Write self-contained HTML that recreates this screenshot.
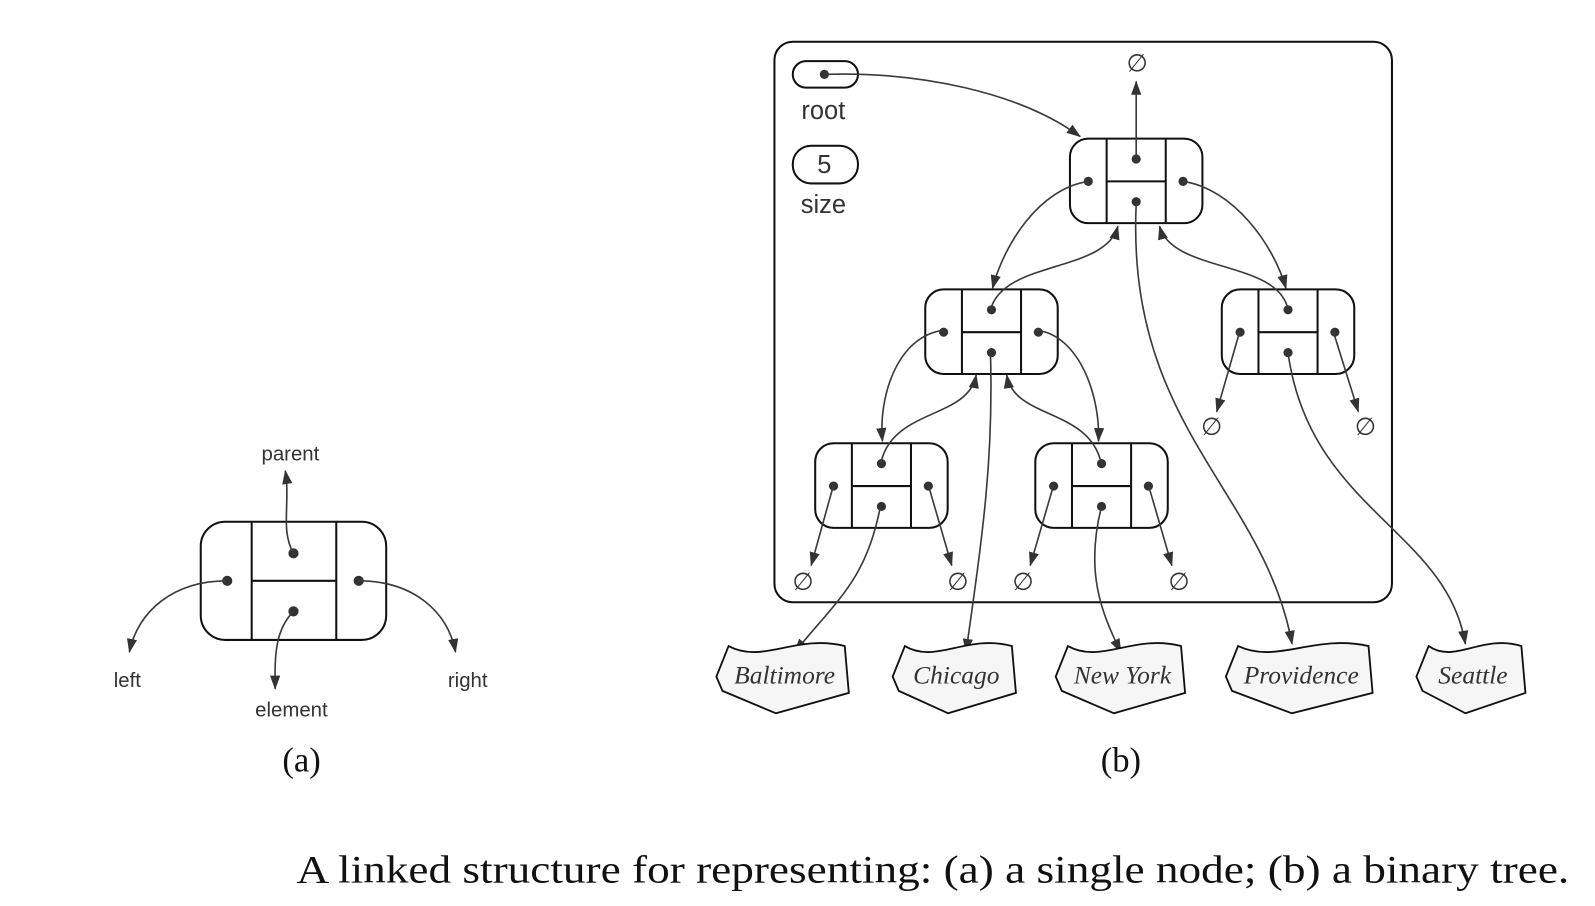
<!DOCTYPE html>
<html><head><meta charset="utf-8"><style>
html,body{margin:0;padding:0;background:#fff}
svg{display:block}
.ln{fill:none;stroke:#3a3a3a;stroke-width:1.6}
.bx{fill:#fff;stroke:#111;stroke-width:2}
.dv{stroke:#111;stroke-width:2}
.dot{fill:#333}
.nul{font-family:"DejaVu Sans",sans-serif;font-size:24px;fill:#333;text-anchor:middle}
.lab{font-family:"Liberation Sans",sans-serif;fill:#333;text-anchor:middle}
.el{fill:#f6f6f6;stroke:#111;stroke-width:1.8}
.elt{font-family:"Liberation Serif",serif;font-style:italic;font-size:25px;fill:#333;text-anchor:middle}
</style></head><body>
<svg width="1595" height="906" viewBox="0 0 1595 906">
<defs><marker id="ah" markerWidth="14" markerHeight="10" refX="13" refY="5" orient="auto" markerUnits="userSpaceOnUse"><path d="M0,0 L14,5 L0,10 Z" fill="#333"/></marker></defs>
<g transform="scale(1.019)">
<!-- (a) single node -->
<g>
<rect class="bx" x="197" y="512" width="182" height="116" rx="24"/>
<line class="dv" x1="247" y1="512" x2="247" y2="628"/><line class="dv" x1="330" y1="512" x2="330" y2="628"/>
<line class="dv" x1="247" y1="570" x2="330" y2="570"/>
<circle class="dot" cx="288" cy="543" r="5"/><circle class="dot" cx="288" cy="600" r="5"/>
<circle class="dot" cx="223" cy="570" r="5"/><circle class="dot" cx="352" cy="570" r="5"/>
<path class="ln" marker-end="url(#ah)" d="M288,543 C275,520 285,495 280,462"/>
<path class="ln" marker-end="url(#ah)" d="M223,570 C170,570 135,600 127,640"/>
<path class="ln" marker-end="url(#ah)" d="M352,570 C405,570 440,600 447,640"/>
<path class="ln" marker-end="url(#ah)" d="M288,600 C268,620 270,650 270,676"/>
<text class="lab" x="285" y="452" font-size="20">parent</text>
<text class="lab" x="125" y="674" font-size="20">left</text>
<text class="lab" x="286" y="703" font-size="20">element</text>
<text class="lab" x="459" y="674" font-size="20">right</text>
</g>
<text x="296" y="757" font-family="Liberation Serif,serif" font-size="34" text-anchor="middle" fill="#111">(a)</text>
<text x="1100" y="757" font-family="Liberation Serif,serif" font-size="34" text-anchor="middle" fill="#111">(b)</text>

<!-- (b) tree -->
<rect x="760" y="41" width="606" height="550" rx="18" fill="none" stroke="#111" stroke-width="2"/>
<rect class="bx" x="778" y="60" width="64" height="26" rx="13"/>
<circle class="dot" cx="809" cy="73" r="4.5"/>
<text class="lab" x="808" y="117" font-size="25">root</text>
<rect class="bx" x="778" y="143" width="64" height="37" rx="18"/>
<text class="lab" x="809" y="170" font-size="25">5</text>
<text class="lab" x="808" y="209" font-size="25">size</text>

<g id="nodes"></g>

<g>
<path class="ln" marker-end="url(#ah)" d="M809,73 C900,70 1000,90 1060,134"/>
<path class="ln" marker-end="url(#ah)" d="M1115,156 L1115,80"/>
<path class="ln" marker-end="url(#ah)" d="M1068,178 C1020,185 985,240 974,283"/>
<path class="ln" marker-end="url(#ah)" d="M1161,178 C1210,185 1250,240 1262,283"/>
<path class="ln" marker-end="url(#ah)" d="M972,304 C985,255 1085,268 1097,222"/>
<path class="ln" marker-end="url(#ah)" d="M1264,304 C1255,255 1150,268 1138,222"/>
<path class="ln" marker-end="url(#ah)" d="M1115,200 C1105,420 1240,480 1268,632"/>
<path class="ln" marker-end="url(#ah)" d="M1217,324 L1194,404"/>
<path class="ln" marker-end="url(#ah)" d="M1308,324 L1333,404"/>
<path class="ln" marker-end="url(#ah)" d="M1264,346 C1285,500 1420,520 1438,632"/>
<path class="ln" marker-end="url(#ah)" d="M926,324 C880,330 862,390 866,433"/>
<path class="ln" marker-end="url(#ah)" d="M1018,324 C1060,330 1080,390 1078,433"/>
<path class="ln" marker-end="url(#ah)" d="M864,456 C875,400 950,412 958,368"/>
<path class="ln" marker-end="url(#ah)" d="M1081,456 C1070,400 995,412 988,368"/>
<path class="ln" marker-end="url(#ah)" d="M972,346 C975,450 965,520 948,640"/>
<path class="ln" marker-end="url(#ah)" d="M818,476 L796,555"/>
<path class="ln" marker-end="url(#ah)" d="M911,476 L934,555"/>
<path class="ln" marker-end="url(#ah)" d="M1034,476 L1011,555"/>
<path class="ln" marker-end="url(#ah)" d="M1127,476 L1150,555"/>
<path class="ln" marker-end="url(#ah)" d="M864,497 C850,570 820,590 780,640"/>
<path class="ln" marker-end="url(#ah)" d="M1081,497 C1065,560 1080,600 1100,640"/>
</g>
<g>
<text class="nul" x="1116" y="70">∅</text>
<text class="nul" x="1189" y="427">∅</text>
<text class="nul" x="1340" y="427">∅</text>
<text class="nul" x="788" y="579">∅</text>
<text class="nul" x="940" y="579">∅</text>
<text class="nul" x="1004" y="579">∅</text>
<text class="nul" x="1157" y="579">∅</text>
</g>
<g id="elems"></g>

<text x="291" y="866" font-family="Liberation Serif,serif" font-size="38" fill="#111" textLength="1249" lengthAdjust="spacingAndGlyphs">A linked structure for representing: (a) a single node; (b) a binary tree.</text>
</g>
</svg>
<script>
var NS='http://www.w3.org/2000/svg';
var nodeXs=[1050,908,1199,800,1016];
var nodeYs=[136,284,284,435,435];
var g=document.getElementById('nodes');
function mk(t,a){var e=document.createElementNS(NS,t);for(var k in a)e.setAttribute(k,a[k]);return e;}
nodeXs.forEach(function(x,i){var y=nodeYs[i];
 var n=mk('g',{});
 
 
 n.appendChild(mk('rect',{'class':'bx',x:x,y:y,width:130,height:83,rx:18}));
 n.appendChild(mk('line',{'class':'dv',x1:x+36,y1:y,x2:x+36,y2:y+83}));
 n.appendChild(mk('line',{'class':'dv',x1:x+94,y1:y,x2:x+94,y2:y+83}));
 n.appendChild(mk('line',{'class':'dv',x1:x+36,y1:y+42,x2:x+94,y2:y+42}));
 [[65,20],[65,62],[18,42],[111,42]].forEach(function(d){n.appendChild(mk('circle',{'class':'dot',cx:x+d[0],cy:y+d[1],r:4.5}));});
 g.appendChild(n);
});
var elNames=['Baltimore','Chicago','New York','Providence','Seattle'];
var elX0=[703,876,1036,1203,1390];
var elW=[130,121,127,144,107];
var eg=document.getElementById('elems');
elNames.forEach(function(nm,i){var x=elX0[i],w=elW[i];
 var p=mk('path',{'class':'el',d:'M'+(x+12)+',634 C'+(x+w*0.35)+',652 '+(x+w*0.6)+',622 '+(x+w-4)+',634 L'+(x+w)+',680 L'+(x+w*0.45)+',700 L'+(x+6)+',678 L'+x+',664 Z'});
 
 
 eg.appendChild(p);
 var t=mk('text',{'class':'elt',x:x+w/2+2,y:671});
 t.textContent=nm;
 
 
 eg.appendChild(t);
});
</script>
</body></html>
